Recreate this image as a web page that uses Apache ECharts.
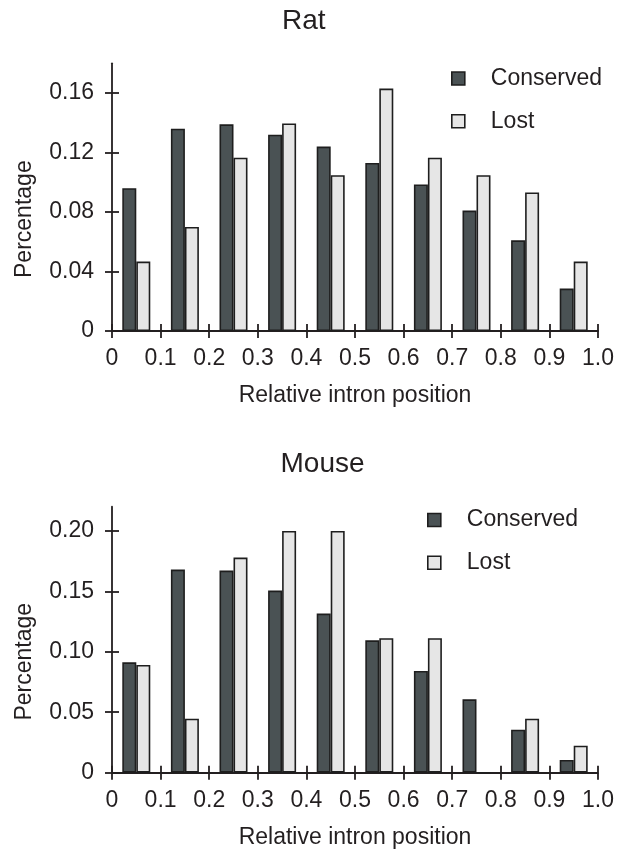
<!DOCTYPE html>
<html>
<head>
<meta charset="utf-8">
<script src="https://cdn.jsdelivr.net/npm/echarts@6/dist/echarts.min.js"></script>
<style>
html,body{margin:0;padding:0;background:#fff;}
#chart{width:620px;height:851px;}
</style>
</head>
<body>
<div id="chart"></div>
<script>
// ---- data ----
const categories = ['0-0.1','0.1-0.2','0.2-0.3','0.3-0.4','0.4-0.5','0.5-0.6','0.6-0.7','0.7-0.8','0.8-0.9','0.9-1.0'];
const xTickValues = [0,0.1,0.2,0.3,0.4,0.5,0.6,0.7,0.8,0.9,1.0];
const xTickLabels = ['0','0.1','0.2','0.3','0.4','0.5','0.6','0.7','0.8','0.9','1.0'];

const ratConserved = [0.096,0.136,0.139,0.132,0.124,0.113,0.0985,0.081,0.061,0.0285];
const ratLost      = [0.0467,0.070,0.1165,0.1396,0.1048,0.163,0.1165,0.1048,0.0932,0.0467];
const ratYTicks      = [0,0.04,0.08,0.12,0.16];
const ratYTickLabels = ['0','0.04','0.08','0.12','0.16'];

const mouseConserved = [0.0913,0.168,0.1672,0.1506,0.1316,0.1095,0.0841,0.0607,0.0356,0.0105];
const mouseLost      = [0.0891,0.0447,0.1779,0.200,0.200,0.1112,0.1112,0,0.0447,0.0223];
const mouseYTicks      = [0,0.05,0.10,0.15,0.20];
const mouseYTickLabels = ['0','0.05','0.10','0.15','0.20'];

const seriesNames = ['Conserved','Lost'];
const titles = ['Rat','Mouse'];
const xName = 'Relative intron position';
const yName = 'Percentage';

// ---- styles ----
const FONT = '"Liberation Sans", Arial, Helvetica, sans-serif';
const TXT = '#231f20';
const AX = '#231f20';
const FS = 23;
const TFS = 28;
const darkFill = '#4a5254';
const lightFill = '#e6e6e6';
const barBorder = '#1e1e1e';
const AXW = 1.8;

function labelFor(values, labels) {
  return function (v) {
    for (let i = 0; i < values.length; i++) {
      if (Math.abs(values[i] - v) < 1e-6) return labels[i];
    }
    return '';
  };
}

const chart = echarts.init(document.getElementById('chart'), null, {renderer: 'canvas'});

const grids = [
  {left: 112, right: 22, top: 63.3, bottom: 520},
  {left: 112, right: 22, top: 506.7, bottom: 78.3}
];

const xAxes = [];
const yAxes = [];
const yInfo = [
  {max: 0.18, ticks: ratYTicks, labels: ratYTickLabels},
  {max: 0.22, ticks: mouseYTicks, labels: mouseYTickLabels}
];
for (let g = 0; g < 2; g++) {
  // hidden category axis carrying the bars
  xAxes.push({type: 'category', gridIndex: g, data: categories, show: false, position: 'bottom'});
  // value axis for boundary ticks + labels (outward ticks)
  xAxes.push({
    type: 'value', gridIndex: g, position: 'bottom', min: 0, max: 1, interval: 0.1,
    name: xName, nameLocation: 'middle', nameGap: 53.5,
    nameTextStyle: {fontFamily: FONT, fontSize: FS, color: TXT},
    axisLine: {show: true, onZero: false, lineStyle: {color: AX, width: AXW}},
    axisTick: {show: true, length: 7, inside: false, lineStyle: {color: AX, width: AXW}},
    axisLabel: {show: true, margin: 16.5, fontFamily: FONT, fontSize: FS, color: TXT,
      formatter: labelFor(xTickValues, xTickLabels)},
    splitLine: {show: false}
  });
  // inward ticks
  xAxes.push({
    type: 'value', gridIndex: g, position: 'bottom', min: 0, max: 1, interval: 0.1,
    axisLine: {show: false, onZero: false},
    axisTick: {show: true, length: 7, inside: true, lineStyle: {color: AX, width: AXW}},
    axisLabel: {show: false}, splitLine: {show: false}
  });

  const yi = yInfo[g];
  yAxes.push({
    type: 'value', gridIndex: g, position: 'left', min: 0, max: yi.max,
    name: yName, nameLocation: 'middle', nameGap: 76,
    nameTextStyle: {fontFamily: FONT, fontSize: FS, color: TXT, padding: [0, 44, 0, 0]},
    axisLine: {show: true, onZero: false, lineStyle: {color: AX, width: AXW}},
    axisTick: {show: true, length: 7, inside: false, customValues: yi.ticks, lineStyle: {color: AX, width: AXW}},
    axisLabel: {show: true, margin: 18, fontFamily: FONT, fontSize: FS, color: TXT,
      customValues: yi.ticks, formatter: labelFor(yi.ticks, yi.labels)},
    splitLine: {show: false}
  });
  yAxes.push({
    type: 'value', gridIndex: g, position: 'left', min: 0, max: yi.max,
    axisLine: {show: false, onZero: false},
    axisTick: {show: true, length: 7, inside: true, customValues: yi.ticks, lineStyle: {color: AX, width: AXW}},
    axisLabel: {show: false}, splitLine: {show: false}
  });
}

function barSeries(name, data, g, fill) {
  return {
    type: 'bar', name: name, data: data,
    xAxisIndex: g * 3, yAxisIndex: g * 2,
    barWidth: 14, barGap: '0%',
    itemStyle: {color: fill, borderColor: barBorder, borderWidth: 1.6},
    emphasis: {disabled: true},
    animation: false
  };
}

const legendItems = [
  {name: seriesNames[0], itemStyle: {color: darkFill, borderColor: barBorder, borderWidth: 1.6}},
  {name: seriesNames[1], itemStyle: {color: lightFill, borderColor: barBorder, borderWidth: 1.6}}
];

const option = {
  backgroundColor: '#fff',
  animation: false,
  title: [
    {text: titles[0], left: 282, top: 7.5, padding: 0, textStyle: {fontFamily: FONT, fontSize: TFS, fontWeight: 'normal', color: TXT}},
    {text: titles[1], left: 280.5, top: 450, padding: 0, textStyle: {fontFamily: FONT, fontSize: TFS, fontWeight: 'normal', color: TXT}}
  ],
  legend: [
    {orient: 'vertical', left: 451, top: 67, padding: 0, itemGap: 19.7, itemWidth: 13, itemHeight: 13,
      icon: 'rect', data: legendItems, selectedMode: false,
      textStyle: {fontFamily: FONT, fontSize: FS, color: TXT, padding: [0, 0, 0, 21]}},
    {orient: 'vertical', left: 427, top: 508.5, padding: 0, itemGap: 19.7, itemWidth: 13, itemHeight: 13,
      icon: 'rect', data: legendItems, selectedMode: false,
      textStyle: {fontFamily: FONT, fontSize: FS, color: TXT, padding: [0, 0, 0, 21]}}
  ],
  grid: grids,
  xAxis: xAxes,
  yAxis: yAxes,
  series: [
    barSeries(seriesNames[0], ratConserved, 0, darkFill),
    barSeries(seriesNames[1], ratLost, 0, lightFill),
    barSeries(seriesNames[0], mouseConserved, 1, darkFill),
    barSeries(seriesNames[1], mouseLost, 1, lightFill)
  ]
};
chart.setOption(option);
</script>
</body>
</html>
